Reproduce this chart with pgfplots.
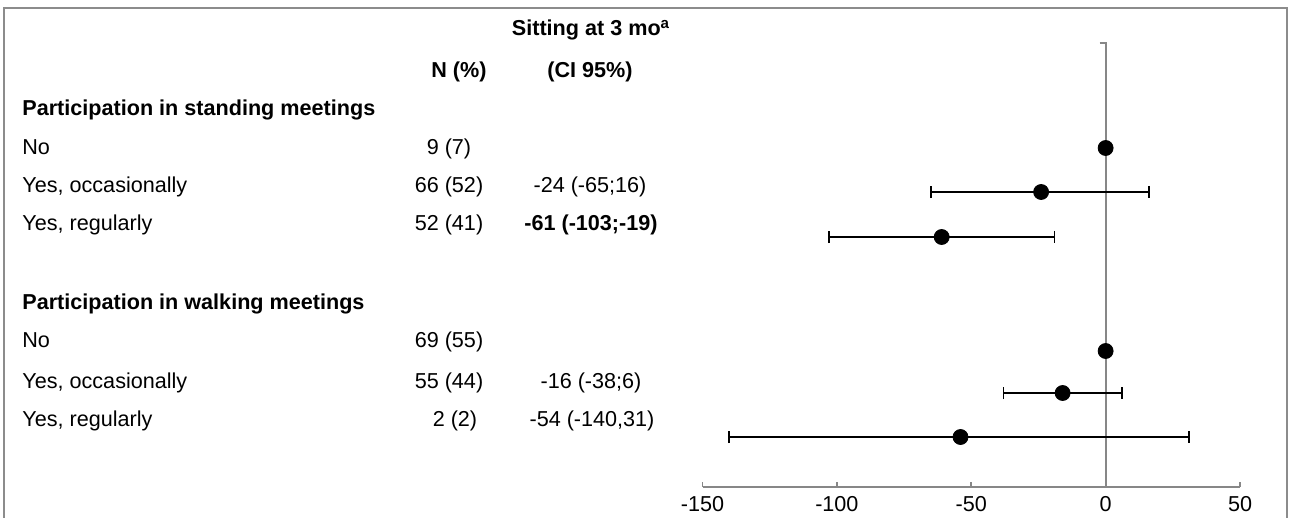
\documentclass[border=0pt]{standalone}
\usepackage{pgfplots}
\pgfplotsset{compat=1.18}
\usepackage{fontspec}
\setmainfont{Liberation Sans}
\definecolor{axisgray}{HTML}{878787}
\definecolor{framegray}{HTML}{8C8C8C}

\begin{document}
\fontsize{10.8}{13}\selectfont
\begin{tikzpicture}
% picture laid out in reference pixels: 1 px = 0.5pt, y downward
\useasboundingbox (0,0) rectangle (644.5pt,-259pt);
\begin{scope}[x=0.5pt,y=-0.5pt, every node/.style={inner sep=0pt}]
\draw[framegray, line width=1pt] (4,518) -- (4,8) -- (1287,8) -- (1287,518);

\node[font=\bfseries, anchor=base] at (591,36) {Sitting at 3 mo\textsuperscript{a}};
\node[font=\bfseries, anchor=base] at (459,78) {N (\%)};
\node[font=\bfseries, anchor=base] at (590,78) {(CI 95\%)};

\node[anchor=base west,font=\bfseries] at (22,116) {Participation in standing meetings};
\node[anchor=base west] at (22,155) {No};
\node[anchor=base west] at (22,193) {Yes, occasionally};
\node[anchor=base west] at (22,231) {Yes, regularly};
\node[anchor=base] at (449,155) {9 (7)};
\node[anchor=base] at (449,193) {66 (52)};
\node[anchor=base] at (449,231) {52 (41)};
\node[anchor=base] at (590,193) {-24 (-65;16)};
\node[font=\bfseries, anchor=base] at (591,231) {-61 (-103;-19)};

\node[anchor=base west,font=\bfseries] at (22,309) {Participation in walking meetings};
\node[anchor=base west] at (22,347) {No};
\node[anchor=base west] at (22,388) {Yes, occasionally};
\node[anchor=base west] at (22,426) {Yes, regularly};
\node[anchor=base] at (449,347) {69 (55)};
\node[anchor=base] at (449,388) {55 (44)};
\node[anchor=base] at (455,426) {2 (2)};
\node[anchor=base] at (591,388) {-16 (-38;6)};
\node[anchor=base] at (592,426) {-54 (-140,31)};
\end{scope}

\begin{axis}[
    at={(351.25pt,-243.5pt)}, anchor=south west,
    width=268.75pt, height=222pt, scale only axis,
    xmin=-150, xmax=50, ymin=-487, ymax=-43,
    axis x line=bottom, axis y line=none,
    axis line style={-, draw=axisgray, line width=0.9pt},
    xtick={-150,-100,-50,0,50}, ytick=\empty,
    tick align=inside, major tick length=2.5pt,
    tick style={axisgray, line width=0.9pt},
    ticklabel style={font=\fontsize{10.8}{13}\selectfont},
    /pgf/number format/assume math mode=true,
    xticklabel style={yshift=-1pt},
    clip=false,
]
\addplot[axisgray, line width=0.9pt] coordinates {(-2.2,-43) (0,-43) (0,-487)};

\addplot[only marks, mark=*, mark size=3.75pt, black,
    error bars/.cd, x dir=both, x explicit,
    error bar style={line width=0.9pt, black},
    error mark options={rotate=90, line width=0.9pt, mark size=3pt, black}]
    coordinates {
    (-24,-192) += (40,0) -= (41,0)
    (-61,-237) += (42,0) -= (42,0)
    (-16,-393) += (22,0) -= (22,0)
    (-54,-437) += (85,0) -= (86,0)
    };
\addplot[only marks, mark=*, mark size=3.75pt, black]
    coordinates {(0,-148) (0,-351)};
\end{axis}
\end{tikzpicture}
\end{document}
